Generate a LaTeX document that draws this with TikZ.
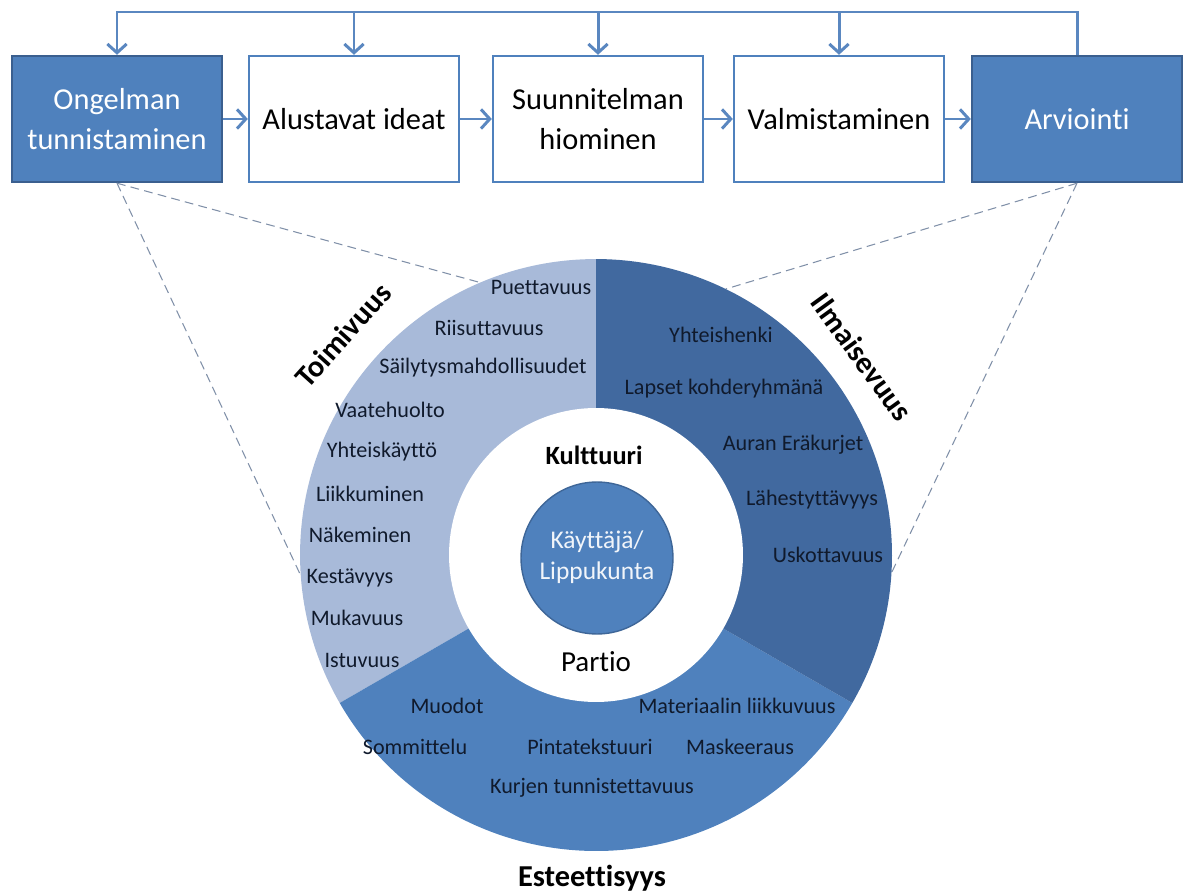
\documentclass[tikz,border=0pt]{standalone}
\usepackage{fontspec}
\setmainfont{Carlito}[Ligatures=NoCommon]
\usetikzlibrary{arrows.meta}

\definecolor{boxblue}{HTML}{4F81BD}
\definecolor{boxedge}{HTML}{3A5F8F}
\definecolor{flowblue}{HTML}{5A87C0}
\definecolor{toimicol}{HTML}{A8BAD9}
\definecolor{ilmacol}{HTML}{41699F}
\definecolor{estecol}{HTML}{4F81BD}
\definecolor{txtdark}{HTML}{101A2C}
\definecolor{dashgray}{HTML}{8090A8}

\tikzset{
  box/.style={draw=boxblue, line width=1.4pt, fill=white, minimum width=4.2cm, minimum height=2.52cm,
    align=center, inner sep=2pt, font=\fontsize{17.3}{22.5}\selectfont},
  bluebox/.style={box, draw=boxedge, fill=boxblue, text=white},
  flow/.style={draw=flowblue, line width=1.7pt, -{Straight Barb[length=5pt,width=11pt]}},
  guide/.style={draw=dashgray, line width=0.6pt, dash pattern=on 5pt off 3pt},
  lbl/.style={text=txtdark, inner sep=0pt, font=\fontsize{12.6}{15}\selectfont},
  cat/.style={text=black, inner sep=0pt, font=\fontsize{17.3}{20}\selectfont\bfseries},
}

\begin{document}
\begin{tikzpicture}[x=0.02cm, y=0.02cm]
		%%%%% START %%%%%
		\useasboundingbox (0,0) rectangle (1197,-895);
		
		% process chain
		\node[bluebox] (ongelma) at (117,-119) {Ongelman\\tunnistaminen};
		\node[box] (alustavat) at (354,-119) {Alustavat ideat};
		\node[box] (hiominen) at (598,-119) {Suunnitelman\\hiominen};
		\node[box] (valmistus) at (839,-119) {Valmistaminen};
		\node[bluebox] (arviointi) at (1077,-119) {Arviointi};
		
		\draw[flow] (ongelma) -- (alustavat);
		\draw[flow] (alustavat) -- (hiominen);
		\draw[flow] (hiominen) -- (valmistus);
		\draw[flow] (valmistus) -- (arviointi);
		
		% feedback loop
		\coordinate (top) at (600,-12);
		\draw[flow] (arviointi.north) |- (top) -| (ongelma.north);
		\draw[flow] (alustavat.north |- top) -- (alustavat.north);
		\draw[flow] (hiominen.north |- top) -- (hiominen.north);
		\draw[flow] (valmistus.north |- top) -- (valmistus.north);
		
		% wheel
		\coordinate (ctr) at (596,-555);
		\path (ctr) ++(184:5.92cm) coordinate (edgeA);
		\path (ctr) ++(113:5.92cm) coordinate (edgeB);
		\path (ctr) ++(64:5.92cm) coordinate (edgeC);
		\path (ctr) ++(-3.5:5.92cm) coordinate (edgeD);
		
		\draw[guide] (ongelma.south) -- (edgeA);
		\draw[guide] (ongelma.south) -- (edgeB);
		\draw[guide] (arviointi.south) -- (edgeC);
		\draw[guide] (arviointi.south) -- (edgeD);
		
		\fill[toimicol] (ctr) -- ++(90:5.92cm) arc[start angle=90, end angle=210, radius=5.92cm] -- cycle;
		\fill[estecol] (ctr) -- ++(210:5.92cm) arc[start angle=210, end angle=330, radius=5.92cm] -- cycle;
		\fill[ilmacol] (ctr) -- ++(-30:5.92cm) arc[start angle=-30, end angle=90, radius=5.92cm] -- cycle;
		\fill[white] (ctr) circle[radius=2.94cm];
		\draw[draw=boxedge!80!boxblue, fill=boxblue, line width=0.8pt] (597,-558) circle[radius=1.52cm];
		
		\node[text=white!92!boxblue, align=center, font=\fontsize{14.5}{17.5}\selectfont] (kayttaja) at (597,-557) {Käyttäjä/\\Lippukunta};
		\node[font=\fontsize{15}{17}\selectfont\bfseries] (kulttuuri) at (594,-455) {Kulttuuri};
		\node[font=\fontsize{16.5}{19}\selectfont] (partio) at (596,-662) {Partio};
		
		% sector titles
		\node[cat, rotate=48] (toimivuus) at (343,-335) {Toimivuus};
		\node[cat, rotate=-54] (ilmaisevuus) at (862,-357) {Ilmaisevuus};
		\node[cat] (esteettisyys) at (592,-878) {Esteettisyys};
		
		% Toimivuus
		\node[lbl] (puettavuus) at (541,-287) {Puettavuus};
		\node[lbl] (riisuttavuus) at (489,-328) {Riisuttavuus};
		\node[lbl] (sailytys) at (483,-368) {Säilytysmahdollisuudet};
		\node[lbl] (vaatehuolto) at (390,-410) {Vaatehuolto};
		\node[lbl] (yhteiskaytto) at (382,-452) {Yhteiskäyttö};
		\node[lbl] (liikkuminen) at (370,-494) {Liikkuminen};
		\node[lbl] (nakeminen) at (360,-535) {Näkeminen};
		\node[lbl] (kestavyys) at (350,-578) {Kestävyys};
		\node[lbl] (mukavuus) at (357,-618) {Mukavuus};
		\node[lbl] (istuvuus) at (362,-660) {Istuvuus};
		
		% Ilmaisevuus
		\node[lbl] (yhteishenki) at (721,-335) {Yhteishenki};
		\node[lbl] (lapset) at (724,-389) {Lapset kohderyhmänä};
		\node[lbl] (erakurjet) at (793,-445) {Auran Eräkurjet};
		\node[lbl] (lahestyttavyys) at (812,-500) {Lähestyttävyys};
		\node[lbl] (uskottavuus) at (828,-555) {Uskottavuus};
		
		% Esteettisyys
		\node[lbl] (muodot) at (447,-706) {Muodot};
		\node[lbl] (materiaali) at (737,-706) {Materiaalin liikkuvuus};
		\node[lbl] (sommittelu) at (415,-747) {Sommittelu};
		\node[lbl] (pinta) at (590,-747) {Pintatekstuuri};
		\node[lbl] (maskeeraus) at (740,-747) {Maskeeraus};
		\node[lbl] (kurjet) at (592,-788) {Kurjen tunnistettavuus};
		
		%%%%% END %%%%%
	\end{tikzpicture}
\end{document}
